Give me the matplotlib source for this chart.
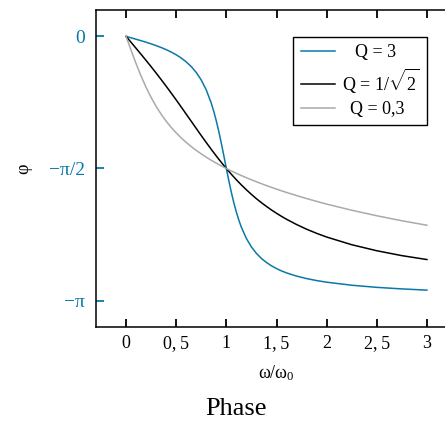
import numpy as np
import matplotlib
matplotlib.use("Agg")
import matplotlib.pyplot as plt

# omega / omega_0
x = [0, 0.05, 0.1, 0.15, 0.2, 0.25, 0.3, 0.35, 0.4, 0.45, 0.5, 0.55, 0.6, 0.65,
     0.7, 0.75, 0.8, 0.85, 0.875, 0.9, 0.925, 0.95, 0.975, 1.0, 1.025, 1.05,
     1.075, 1.1, 1.125, 1.15, 1.2, 1.25, 1.3, 1.35, 1.4, 1.45, 1.5, 1.55, 1.6,
     1.7, 1.8, 1.9, 2.0, 2.25, 2.5, 2.75, 3.0]

# phase (rad)
phi_q3 = [0, -0.0167, -0.0337, -0.0511, -0.0693, -0.0887, -0.1095, -0.1322,
          -0.1574, -0.1859, -0.2187, -0.2571, -0.3029, -0.3589, -0.4291,
          -0.5191, -0.6376, -0.7958, -0.8939, -1.0064, -1.1329, -1.2723,
          -1.4200, -1.5708, -1.7179, -1.8561, -1.9805, -2.0907, -2.1871,
          -2.2703, -2.4038, -2.5040, -2.5807, -2.6410, -2.6886, -2.7283,
          -2.7611, -2.7887, -2.8124, -2.8503, -2.8798, -2.9035, -2.9229,
          -2.9590, -2.9842, -3.0028, -3.0172]
phi_qsqrt = [0, -0.0708, -0.1419, -0.2137, -0.2866, -0.3606, -0.4361, -0.5136,
             -0.5927, -0.6735, -0.7558, -0.8398, -0.9248, -1.0099, -1.0949,
             -1.1796, -1.2627, -1.3439, -1.3836, -1.4226, -1.4609, -1.4983,
             -1.5350, -1.5708, -1.6057, -1.6397, -1.6728, -1.7050, -1.7362,
             -1.7666, -1.8243, -1.8789, -1.9302, -1.9776, -2.0221, -2.0641,
             -2.1030, -2.1400, -2.1745, -2.2370, -2.2927, -2.3417, -2.3858,
             -2.4771, -2.5489, -2.6070, -2.6536]
phi_q03 = [0, -0.1656, -0.3246, -0.4728, -0.6073, -0.7266, -0.8330, -0.9259,
           -1.0087, -1.0821, -1.1476, -1.2073, -1.2612, -1.3103, -1.3556,
           -1.3976, -1.4366, -1.4732, -1.4906, -1.5075, -1.5240, -1.5400,
           -1.5556, -1.5708, -1.5856, -1.6001, -1.6142, -1.6280, -1.6415,
           -1.6548, -1.6804, -1.7050, -1.7287, -1.7516, -1.7736, -1.7951,
           -1.8158, -1.8359, -1.8557, -1.8927, -1.9282, -1.9617, -1.9940,
           -2.0670, -2.1329, -2.1922, -2.2455]

labels = ["Q = 3", r"Q = 1/$\sqrt{2}$", "Q = 0,3"]
xticks = [0, 0.5, 1, 1.5, 2, 2.5, 3]
xticklabels = ["0", "0,\u20095", "1", "1,\u20095", "2", "2,\u20095", "3"]
yticks = [0, -np.pi / 2, -np.pi]
yticklabels = ["0", "\u2212\u03c0/2", "\u2212\u03c0"]

blue = "#0a78a8"
plt.rcParams["font.family"] = ["Liberation Serif", "DejaVu Serif"]
plt.rcParams["mathtext.fontset"] = "custom"
plt.rcParams["mathtext.rm"] = "Liberation Serif"
plt.rcParams["mathtext.it"] = "Liberation Serif:italic"

fig = plt.figure(figsize=(4.45, 4.22), dpi=100)
ax = fig.add_axes([96 / 445, 1 - 327 / 422, 361 / 445, 317 / 422])

ax.plot(x, phi_q3, color=blue, lw=1.1, label=labels[0])
ax.plot(x, phi_qsqrt, color="black", lw=1.1, label=labels[1])
ax.plot(x, phi_q03, color="#aaaaaa", lw=1.1, label=labels[2])

ax.set_xlim(-0.3, 3.3)
ax.set_ylim(-1.1 * np.pi, 0.1 * np.pi)
ax.spines["right"].set_visible(False)
for s in ["left", "top", "bottom"]:
    ax.spines[s].set_linewidth(1.1)

ax.set_xticks(xticks, xticklabels, fontsize=13)
ax.set_yticks(yticks, yticklabels, fontsize=14)
ax.tick_params(axis="x", direction="in", top=True, length=6, width=1.3, pad=6)
ax.tick_params(axis="y", direction="in", length=6, width=1.3, colors=blue,
               labelcolor=blue, pad=8)

ax.set_xlabel("\u03c9/\u03c9$_0$", fontsize=13, labelpad=8)
ax.set_ylabel("\u03c6", fontsize=13, labelpad=12)

leg = ax.legend(loc="upper right", bbox_to_anchor=(0.917, 0.915), borderaxespad=0,
                fancybox=False, framealpha=1, edgecolor="black", fontsize=13,
                handlelength=1.9, handletextpad=0.4, labelspacing=0.3,
                borderpad=0.4)
leg.get_frame().set_linewidth(1.0)

# centre the legend texts in their column, as in the original
fig.canvas.draw()
widths = [t.get_window_extent().width for t in leg.get_texts()]
for t, w in zip(leg.get_texts(), widths):
    t.set_x((max(widths) - w) / 2 * 72 / fig.dpi)

fig.text(236 / 445, 1 - 409 / 422, "Phase", fontsize=19, ha="center", va="center")

fig.savefig("out.png", dpi=100)
